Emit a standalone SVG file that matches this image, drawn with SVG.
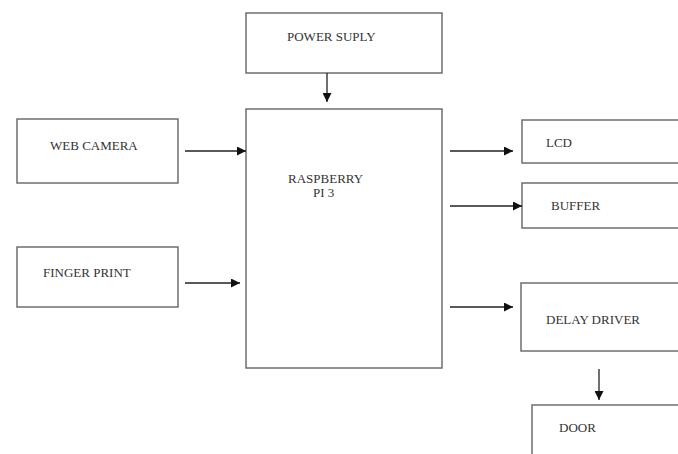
<svg xmlns="http://www.w3.org/2000/svg" width="678" height="454" viewBox="0 0 678 454">
<style>
.box{fill:#fff;stroke:#6e6e6e;stroke-width:1.5}
.lbl{font-family:"Liberation Serif","Times New Roman",serif;font-size:13px;fill:#333}
.ln{stroke:#222;stroke-width:1.3;fill:none}
</style>
<defs>
<marker id="ah" viewBox="0 0 10 10" refX="10" refY="5" markerWidth="9" markerHeight="9" markerUnits="userSpaceOnUse" orient="auto">
<path d="M0,0 L10,5 L0,10 z" fill="#111"/>
</marker>
</defs>
<rect width="678" height="454" fill="#fff"/>
<g id="power"><rect class="box" x="246" y="13" width="196" height="60"/><text class="lbl" x="287" y="41">POWER SUPLY</text></g>
<g id="raspberry"><rect class="box" x="246" y="109" width="196" height="259"/><text class="lbl" x="288" y="183">RASPBERRY</text><text class="lbl" x="313" y="197">PI 3</text></g>
<g id="webcam"><rect class="box" x="17" y="119" width="161" height="64"/><text class="lbl" x="50" y="150">WEB CAMERA</text></g>
<g id="finger"><rect class="box" x="17" y="247" width="161" height="60"/><text class="lbl" x="43" y="277">FINGER PRINT</text></g>
<g id="lcd"><rect class="box" x="522" y="120" width="170" height="43"/><text class="lbl" x="546" y="147">LCD</text></g>
<g id="buffer"><rect class="box" x="522" y="183" width="170" height="45"/><text class="lbl" x="551" y="210">BUFFER</text></g>
<g id="delay"><rect class="box" x="521" y="283" width="170" height="68"/><text class="lbl" x="546" y="324">DELAY DRIVER</text></g>
<g id="door"><rect class="box" x="532" y="405" width="160" height="60"/><text class="lbl" x="559" y="432">DOOR</text></g>
<g id="connectors">
<line class="ln" x1="327" y1="73" x2="327" y2="102" marker-end="url(#ah)"/>
<line class="ln" x1="185" y1="151" x2="246" y2="151" marker-end="url(#ah)"/>
<line class="ln" x1="185" y1="283" x2="240" y2="283" marker-end="url(#ah)"/>
<line class="ln" x1="450" y1="151" x2="513" y2="151" marker-end="url(#ah)"/>
<line class="ln" x1="450" y1="206" x2="522" y2="206" marker-end="url(#ah)"/>
<line class="ln" x1="450" y1="307" x2="513" y2="307" marker-end="url(#ah)"/>
<line class="ln" x1="599" y1="369" x2="599" y2="400" marker-end="url(#ah)"/>
</g>
</svg>
